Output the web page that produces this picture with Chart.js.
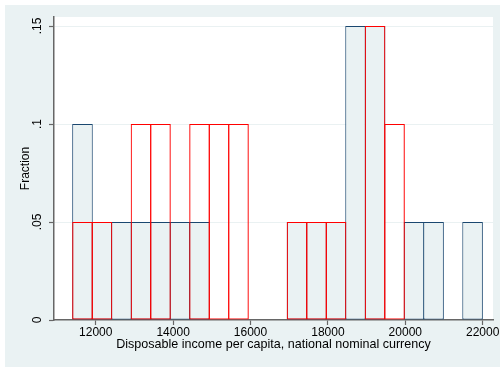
<!DOCTYPE html>
<html>
<head>
<meta charset="utf-8">
<style>
  html, body { margin: 0; padding: 0; background: #ffffff; }
  #wrap { position: relative; width: 500px; height: 367px; }
  canvas { display: block; }
</style>
<script src="https://cdn.jsdelivr.net/npm/chart.js@4.4.1/dist/chart.umd.min.js"></script>
</head>
<body>
<div id="wrap"><canvas id="hist" width="500" height="367"></canvas></div>
<script>
// Histogram bins (bin midpoints, width ~504) for disposable income per capita
const binCenters = [11658, 12162, 12666, 13170, 13674, 14178, 14682, 15186, 15690, 16194,
                    16698, 17202, 17706, 18210, 18714, 19218, 19722, 20226, 20730, 21234, 21738];

// Fraction of observations in each bin, two groups
const fractionA = [0.10, 0.05, 0.05, 0.05, 0.05, 0.05, 0.05, 0, 0, 0,
                   0, 0.05, 0.05, 0.05, 0.15, 0.15, 0, 0.05, 0.05, 0, 0.05];
const fractionB = [0.05, 0.05, 0, 0.10, 0.10, 0, 0.10, 0.10, 0.10, 0,
                   0, 0.05, 0.05, 0.05, 0, 0.15, 0.10, 0, 0, 0, 0];

// Axis ticks
const xTickValues = [12000, 14000, 16000, 18000, 20000, 22000];
const xTickLabels = ['12000', '14000', '16000', '18000', '20000', '22000'];
const yTickValues = [0, 0.05, 0.10, 0.15];
const yTickLabels = ['0', '.05', '.1', '.15'];

const xTitle = 'Disposable income per capita, national nominal currency';
const yTitle = 'Fraction';

const FONT = "'Liberation Sans', Arial, 'DejaVu Sans', sans-serif";
const PANEL = '#EAF2F3';
const AXIS = '#666666';
const EDGE = 1.1;      // bar outline width
// widen each bar by one outline width so neighbouring outlines share one edge
const BAR_PCT = 1.056;

const toPoints = (vals) => binCenters.map((x, i) => ({ x: x, y: vals[i] }));

// Stata-like backgrounds: outer graph region and white plot region
const backdrop = {
  id: 'backdrop',
  beforeDraw(chart) {
    const { ctx, chartArea: a } = chart;
    ctx.save();
    ctx.fillStyle = '#ffffff';
    ctx.fillRect(0, 0, chart.width, chart.height);
    ctx.fillStyle = PANEL;
    ctx.fillRect(5, 5, chart.width - 5, chart.height - 5);
    ctx.fillStyle = '#ffffff';
    ctx.fillRect(a.left, a.top, a.right - a.left, a.bottom - a.top);
    ctx.restore();
  }
};

new Chart(document.getElementById('hist'), {
  type: 'bar',
  data: {
    datasets: [
      {
        label: 'A',
        data: toPoints(fractionA),
        backgroundColor: PANEL,
        borderColor: '#1A476F',
        borderWidth: EDGE,
        borderSkipped: false,
        inflateAmount: 0,
        grouped: false,
        barPercentage: BAR_PCT,
        categoryPercentage: 1,
        order: 1
      },
      {
        label: 'B',
        data: toPoints(fractionB),
        backgroundColor: 'rgba(0,0,0,0)',
        borderColor: '#FF0000',
        borderWidth: EDGE,
        borderSkipped: false,
        inflateAmount: 0,
        grouped: false,
        barPercentage: BAR_PCT,
        categoryPercentage: 1,
        order: 0
      }
    ]
  },
  options: {
    responsive: false,
    devicePixelRatio: 1,
    animation: false,
    events: [],
    layout: { padding: { left: 0, top: 17, right: 7, bottom: 0 } },
    plugins: {
      legend: { display: false },
      tooltip: { enabled: false }
    },
    scales: {
      x: {
        type: 'linear',
        position: 'bottom',
        offset: false,
        min: 10922,
        max: 22266,
        afterFit(scale) { scale.height = 47; },
        afterBuildTicks(scale) { scale.ticks = xTickValues.map(v => ({ value: v })); },
        ticks: {
          autoSkip: false,
          maxRotation: 0,
          minRotation: 0,
          padding: 0,
          color: '#000000',
          font: { family: FONT, size: 12 },
          callback: (v, i) => xTickLabels[i]
        },
        grid: {
          offset: false,
          drawOnChartArea: false,
          drawTicks: true,
          tickLength: 5,
          tickColor: AXIS,
          tickWidth: 1.2
        },
        border: { display: true, color: AXIS, width: 1.5 },
        title: {
          display: true,
          text: xTitle,
          color: '#000000',
          font: { family: FONT, size: 12.55 },
          padding: { top: 0, bottom: 15.2 }
        }
      },
      y: {
        type: 'linear',
        position: 'left',
        min: 0,
        max: 0.1546,
        afterFit(scale) { scale.width = 54; },
        afterBuildTicks(scale) { scale.ticks = yTickValues.map(v => ({ value: v })); },
        ticks: {
          autoSkip: false,
          minRotation: 90,
          maxRotation: 90,
          crossAlign: 'center',
          padding: 3,
          color: '#000000',
          font: { family: FONT, size: 12 },
          callback: (v, i) => yTickLabels[i]
        },
        grid: {
          drawOnChartArea: true,
          drawTicks: true,
          tickLength: 5,
          lineWidth: 1,
          color: (c) => (c.tick && c.tick.value === 0 ? 'rgba(0,0,0,0)' : '#EAF1F2'),
          tickColor: AXIS,
          tickWidth: 1.2
        },
        border: { display: true, color: AXIS, width: 1.5 },
        title: {
          display: true,
          text: yTitle,
          color: '#000000',
          font: { family: FONT, size: 12 },
          padding: { top: 18.6, bottom: 0 }
        }
      }
    }
  },
  plugins: [backdrop]
});
</script>
</body>
</html>
